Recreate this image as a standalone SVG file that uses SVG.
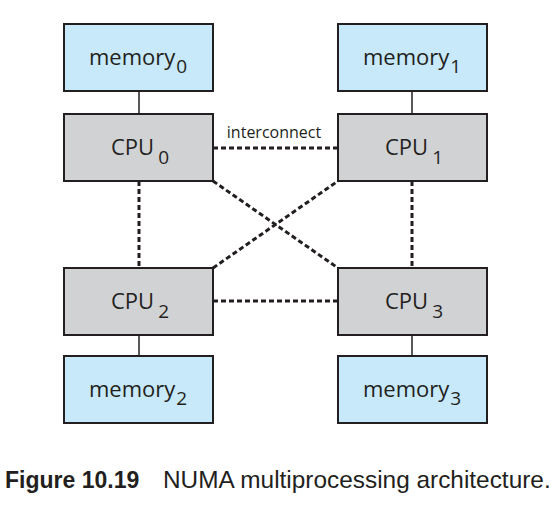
<svg xmlns="http://www.w3.org/2000/svg" width="552" height="507" viewBox="0 0 552 507">
<style>
.mem{fill:#c7e9f9;stroke:#231f20;stroke-width:2}
.cpu{fill:#d1d2d4;stroke:#231f20;stroke-width:2}
.lbl{font-family:"Open Sans","Noto Sans",sans-serif;font-size:22px;fill:#231f20}
.sub{font-size:19px}
.solid{stroke:#231f20;stroke-width:1.5;fill:none}
.dash{stroke:#231f20;stroke-width:3;stroke-dasharray:5 3;fill:none}
</style>
<rect width="552" height="507" fill="#fff"/>
<g id="connectors">
<line class="solid" x1="139" y1="91" x2="139" y2="114"/>
<line class="solid" x1="412" y1="91" x2="412" y2="114"/>
<line class="solid" x1="139" y1="335" x2="139" y2="356"/>
<line class="solid" x1="412" y1="335" x2="412" y2="356"/>
<line class="dash" x1="213" y1="148" x2="338" y2="148"/>
<line class="dash" x1="213" y1="301" x2="338" y2="301"/>
<line class="dash" x1="139" y1="181" x2="139" y2="267"/>
<line class="dash" x1="412" y1="181" x2="412" y2="267"/>
<line class="dash" x1="213" y1="181" x2="338" y2="268" stroke-width="2.5"/>
<line class="dash" x1="213" y1="268" x2="338" y2="181" stroke-width="2.5"/>
<text x="274" y="138" text-anchor="middle" font-family="'Open Sans','Noto Sans',sans-serif" font-size="16" fill="#231f20">interconnect</text>
</g>
<g id="memory0"><rect class="mem" x="64" y="24" width="149" height="67"/><text class="lbl" x="89" y="65">memory<tspan class="sub" dx="1" dy="8">0</tspan></text></g>
<g id="memory1"><rect class="mem" x="338" y="24" width="149" height="67"/><text class="lbl" x="363" y="65">memory<tspan class="sub" dx="1" dy="8">1</tspan></text></g>
<g id="cpu0"><rect class="cpu" x="64" y="114" width="149" height="67"/><text class="lbl" x="111" y="155">CPU<tspan class="sub" dx="4" dy="9">0</tspan></text></g>
<g id="cpu1"><rect class="cpu" x="338" y="114" width="149" height="67"/><text class="lbl" x="385" y="155">CPU<tspan class="sub" dx="4" dy="9">1</tspan></text></g>
<g id="cpu2"><rect class="cpu" x="64" y="268" width="149" height="67"/><text class="lbl" x="111" y="309">CPU<tspan class="sub" dx="4" dy="9">2</tspan></text></g>
<g id="cpu3"><rect class="cpu" x="338" y="268" width="149" height="67"/><text class="lbl" x="385" y="309">CPU<tspan class="sub" dx="4" dy="9">3</tspan></text></g>
<g id="memory2"><rect class="mem" x="64" y="356" width="149" height="67"/><text class="lbl" x="89" y="397">memory<tspan class="sub" dx="1" dy="8">2</tspan></text></g>
<g id="memory3"><rect class="mem" x="338" y="356" width="149" height="67"/><text class="lbl" x="363" y="397">memory<tspan class="sub" dx="1" dy="8">3</tspan></text></g>
<g id="caption" font-family="'Liberation Sans',Arial,sans-serif" fill="#231f20">
<text x="5" y="488" font-size="23" font-weight="bold">Figure 10.19</text>
<text x="163" y="488" font-size="24.4">NUMA multiprocessing architecture.</text>
</g>
</svg>
